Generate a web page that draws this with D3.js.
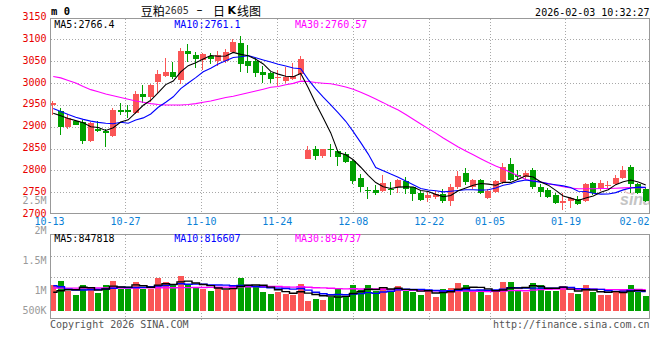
<!DOCTYPE html>
<html><head><meta charset="utf-8">
<script src="https://cdn.jsdelivr.net/npm/d3@7"></script>
<style>html,body{margin:0;padding:0;background:#fff;}svg{display:block;font-family:"DejaVu Sans Mono",monospace;}</style>
</head><body><svg id="c" width="660" height="360"></svg>
<script>
const dates = [
"10-13","10-14","10-15","10-16","10-17","10-20","10-21","10-22","10-23","10-24",
"10-27","10-28","10-29","10-30","10-31","11-03","11-04","11-05","11-06","11-07",
"11-10","11-11","11-12","11-13","11-14","11-17","11-18","11-19","11-20","11-21",
"11-24","11-25","11-26","11-27","11-28","12-01","12-02","12-03","12-04","12-05",
"12-08","12-09","12-10","12-11","12-12","12-15","12-16","12-17","12-18","12-19",
"12-22","12-23","12-24","12-25","12-26","12-29","12-30","12-31","01-05","01-06",
"01-07","01-08","01-09","01-12","01-13","01-14","01-15","01-16","01-19","01-20",
"01-21","01-22","01-23","01-26","01-27","01-28","01-29","01-30","02-02","02-03"];
const open = [
2950,2936,2900,2913,2911,2868,2896,2891,2878,2938,
2938,2932,2975,2968,3003,3016,3025,3006,3073,3065,
3052,3061,3050,3050,3071,3092,3050,3051,3025,3022,
3012,3005,3010,3020,2826,2848.5,2833,2850,2844,2837,
2821,2782,2756,2756,2753,2758,2763,2776,2763,2748,
2736,2740,2746,2729,2761,2793,2761,2778,2738,2751,
2774,2814,2789,2786,2801,2763,2755,2744,2726,2731,
2735,2729,2771,2757,2764,2768,2783,2807,2768,2757];
const high = [
2958,2943,2930,2915,2916,2910,2914,2895,2942,2955,
2949,2982,2995,2997,3029,3057,3049,3081,3090,3072,
3068,3070,3073,3077,3102,3109,3087,3058,3040,3025,
3031,3037,3045,3063,2855,2855,2850,2861,2846,2842,
2823.5,2792,2761,2767,2789,2773,2780,2784,2763,2753,
2750,2753,2757,2768,2799,2806,2780,2780,2757,2778,
2817,2829,2801,2798,2806,2770,2760,2748,2748,2740,
2742,2771,2774,2779,2775,2790,2811,2813,2772,2762];
const low = [
2926,2882,2894,2903,2860,2865,2887,2853,2876,2927,
2921,2930,2955,2957,2977,3014,3009,2999,3048,3034,
3030,3043,3040,3046,3068,3025,3023,3015,3000,3001,
2993,3000,3008,3008,2826,2823.5,2829,2831,2811,2816,
2769,2751.5,2734,2744,2751.5,2744,2748,2745.5,2730,2729,
2727,2735,2726,2719,2758,2767,2757,2746,2734,2748,
2770,2776,2779,2780,2757,2740,2738,2723.5,2710,2714,
2721,2727,2744,2752,2759,2766,2781,2748,2745,2728];
const close = [
2955,2900,2919,2905,2868,2908,2891,2885,2938,2933,
2933,2974,2968,2995,3021,3025,3014,3073,3067,3055,
3066,3055,3064,3071,3095,3044,3040,3022,3018,3010,
3013,3015,3017,3056,2846,2833,2848.5,2846,2831,2820,
2776.5,2763,2754,2748,2772,2757,2778,2757,2746,2733,
2744,2746,2729,2761,2788,2774,2778,2749,2754,2775,
2808,2777,2786,2793,2761,2751.5,2740,2726.5,2729,2736,
2724,2769,2749,2771,2766,2782,2802,2769,2749,2730];
const volume = [
1075000,1268000,849000,682000,1100000,962000,766000,1100000,1268000,933000,
933000,1226000,933000,933000,1381000,1226000,1088000,1464000,1088000,992000,
920000,849000,950000,879000,1088000,1381000,1088000,1017000,808000,711000,
808000,699000,682000,1130000,431000,502000,460000,598000,908000,598000,
1088000,879000,1088000,837000,992000,808000,1046000,849000,782000,669000,
879000,598000,908000,975000,1190000,1088000,808000,879000,669000,808000,
1230000,1230000,849000,808000,1184000,1088000,837000,849000,1046000,753000,
700000,1088000,799000,690000,650000,820000,920000,1088000,801000,610000];

const ma5Head = [2931,2925,2919,2914];
const ma10Head = [2942,2935,2928,2922,2917,2913,2910,2908,2907];
const ma30Head = [3015,3012,3006,3000,2992,2985,2980,2975,2971,2967,2963,2959,2956,2953,2951,2950,2950,2950,2951,2953,2956,2959,2963,2967,2970,2974,2978,2982,2986];
const volMa5Head = [782000,849000,891000,891000];
const volMa10Head = [1059000,1017000,908000,879000,879000,890000,900000,920000,950000];
const volMa30Head = [960000,960000,958000,958000,960000,960000,960000,962000,962000,963000,965000,965000,967000,968000,970000,972000,975000,978000,980000,983000,986000,990000,995000,1000000,1005000,1010000,1015000,1020000,1026000];

const priceTicks = [2700,2750,2800,2850,2900,2950,3000,3050,3100,3150];
const priceGrid = [2750,2800,2850,2900,2950,3000,3050,3100];
const volTicks = [2500000,2000000,1500000,1000000,500000];
const volTickLabels = ["2.5M","2M","1.5M","1M","500K"];
const dateTicks = ["10-13","10-27","11-10","11-24","12-08","12-22","01-05","01-19","02-02"];
const gridDates = ["10-27","11-10","11-24","12-08","12-22","01-05","01-19"];
const priceLegend = [{t:"MA5:2766.4",c:"#000000"},{t:"MA10:2761.1",c:"#0000ff"},{t:"MA30:2760.57",c:"#ff00ff"}];
const volLegend = [{t:"MA5:847818",c:"#000000"},{t:"MA10:816607",c:"#0000ff"},{t:"MA30:894737",c:"#ff00ff"}];

const RED = "#fa5656", GREEN = "#00a000", GRID = "#a8a8a8", BORDER = "#999999";
const svg = d3.select("#c");
const P = {l:50.5, r:649.5, t:18.5, b:213.5};
const V = {l:50.5, r:649.5, t:234.5, b:318.5};

const x = d3.scaleBand().domain(dates).range([49.5, 649.5]).paddingInner(0.2).paddingOuter(0.1);
const xg = d3.scalePoint().domain(dates).range([49.5, 649.5]);
const yP = d3.scaleLinear().domain([2700, 3150]).range([214.1, 17.6]);
const yV = d3.scaleLinear().domain([0, 3200000]).range([311, 311 - 3.2 * 23.9]);
const yVL = d3.scaleLinear().domain([1000000, 2500000]).range([290.7, 200.3]);

function ma(arr, n, head) {
  return arr.map((d, i) => i < n - 1 ? head[i] : d3.mean(arr.slice(i - n + 1, i + 1)));
}
const cx = d => x(d) + x.bandwidth() / 2;

const defs = svg.append("defs");
defs.append("clipPath").attr("id", "cp").append("rect").attr("x", 51).attr("y", 19).attr("width", 598).attr("height", 194);
defs.append("clipPath").attr("id", "cv").append("rect").attr("x", 51).attr("y", 235).attr("width", 598).attr("height", 83);

// gridlines
const g = svg.append("g").attr("shape-rendering", "crispEdges");
g.selectAll(".hg").data(priceGrid).join("line")
  .attr("x1", P.l).attr("x2", P.r)
  .attr("y1", d => Math.round(yP(d)) + 0.5).attr("y2", d => Math.round(yP(d)) + 0.5)
  .attr("stroke", GRID).attr("stroke-dasharray", "1,2");
g.selectAll(".vg").data(gridDates).join("line")
  .attr("x1", d => Math.floor(xg(d)) + 0.5).attr("x2", d => Math.floor(xg(d)) + 0.5)
  .attr("y1", P.t).attr("y2", P.b).attr("stroke", GRID).attr("stroke-dasharray", "1,2");
g.selectAll(".vgv").data(gridDates).join("line")
  .attr("x1", d => Math.floor(xg(d)) + 0.5).attr("x2", d => Math.floor(xg(d)) + 0.5)
  .attr("y1", V.t).attr("y2", V.b + 3).attr("stroke", GRID).attr("stroke-dasharray", "1,2");
g.selectAll(".hv").data([0.25, 0.5]).join("line")
  .attr("x1", V.l).attr("x2", V.r)
  .attr("y1", d => Math.round(V.t + (V.b - V.t) * d) + 0.5).attr("y2", d => Math.round(V.t + (V.b - V.t) * d) + 0.5)
  .attr("stroke", GRID).attr("stroke-dasharray", "1,2");

// watermark
const wm = svg.append("g").attr("clip-path", "url(#cp)");
wm.append("ellipse").attr("cx", 631).attr("cy", 190.5).attr("rx", 6).attr("ry", 3).attr("fill", "none").attr("stroke", "#f0c8c8").attr("stroke-width", 1.5);
wm.append("text").attr("x", 620).attr("y", 205).attr("font-family", "Liberation Sans, Arial, sans-serif")
  .attr("font-size", 16).attr("font-weight", "bold").attr("font-style", "italic").attr("fill", "#c4c4c4").text("sina");

// candles
const idx = d3.range(dates.length);
const cg = svg.append("g").attr("clip-path", "url(#cp)").attr("shape-rendering", "crispEdges");
const col = i => close[i] >= open[i] ? RED : GREEN;
cg.selectAll(".wick").data(idx).join("line")
  .attr("x1", i => Math.round(x(dates[i])) + 2.5).attr("x2", i => Math.round(x(dates[i])) + 2.5)
  .attr("y1", i => yP(high[i])).attr("y2", i => yP(low[i]))
  .attr("stroke", col);
cg.selectAll(".body").data(idx).join("rect")
  .attr("x", i => Math.round(x(dates[i]))).attr("width", Math.round(x.bandwidth()))
  .attr("y", i => yP(Math.max(open[i], close[i])))
  .attr("height", i => Math.max(1, Math.abs(yP(open[i]) - yP(close[i]))))
  .attr("fill", col);

// price MAs
const line = d3.line().x((d, i) => cx(dates[i])).y(d => yP(d));
const ml = svg.append("g").attr("clip-path", "url(#cp)").attr("fill", "none");
[[ma(close, 30, ma30Head), "#ff00ff"], [ma(close, 10, ma10Head), "#0000ff"], [ma(close, 5, ma5Head), "#000000"]]
  .forEach(([s, c]) => ml.append("path").attr("d", line(s)).attr("stroke", c).attr("stroke-width", 1.1));

// volume bars
const vg = svg.append("g").attr("clip-path", "url(#cv)").attr("shape-rendering", "crispEdges");
vg.selectAll("rect").data(idx).join("rect")
  .attr("x", i => Math.round(x(dates[i]))).attr("width", Math.round(x.bandwidth()))
  .attr("y", i => yV(volume[i])).attr("height", i => yV(0) - yV(volume[i]))
  .attr("fill", col);
const vline = d3.line().x((d, i) => cx(dates[i])).y(d => yV(d)).curve(d3.curveStep);
const vml = svg.append("g").attr("clip-path", "url(#cv)").attr("fill", "none");
[[ma(volume, 30, volMa30Head), "#ff00ff"], [ma(volume, 10, volMa10Head), "#0000ff"], [ma(volume, 5, volMa5Head), "#000000"]]
  .forEach(([s, c]) => vml.append("path").attr("d", vline(s)).attr("stroke", c).attr("stroke-width", 1.4));

// borders
const b = svg.append("g").attr("fill", "none").attr("stroke", BORDER).attr("shape-rendering", "crispEdges");
b.append("rect").attr("x", P.l).attr("y", P.t).attr("width", P.r - P.l).attr("height", P.b - P.t);
b.append("rect").attr("x", V.l).attr("y", V.t).attr("width", V.r - V.l).attr("height", V.b - V.t);

// axis labels
const T = svg.append("g").attr("font-size", 10).attr("dominant-baseline", "central");
T.selectAll(".pt").data(priceTicks).join("text")
  .attr("x", 46.5).attr("y", d => yP(d) - 1).attr("text-anchor", "end").attr("fill", "#e80000").text(d => d);
T.selectAll(".vt").data(volTicks).join("text")
  .attr("x", 46.5).attr("y", d => Math.min(yVL(d), 310)).attr("text-anchor", "end").attr("fill", "#9a9a9a")
  .text((d, i) => volTickLabels[i]);
T.selectAll(".dt").data(dateTicks).join("text")
  .attr("x", d => Math.min(xg(d), 650 - 15.5)).attr("y", 221.7).attr("text-anchor", "middle")
  .attr("fill", "#0a7fd6").text(d => d);

// legends
T.selectAll(".pl").data(priceLegend).join("text")
  .attr("x", (d, i) => [54.3, 174.3, 295][i]).attr("y", 24).attr("fill", d => d.c).text(d => d.t);
T.selectAll(".vl").data(volLegend).join("text")
  .attr("x", (d, i) => [54.3, 174.3, 295][i]).attr("y", 238.5).attr("fill", d => d.c).text(d => d.t);

// header
T.append("text").attr("x", 51).attr("y", 11.2).attr("font-size", 10.5).attr("font-weight", "bold").attr("fill", "#000").text("m 0");
const title = svg.append("text").attr("y", 10).attr("dominant-baseline", "central").attr("fill", "#000");
title.append("tspan").attr("x", 140.7).attr("font-family", "Noto Sans CJK SC").attr("font-size", 12).text("豆粕");
title.append("tspan").attr("x", 164.7).attr("font-family", "DejaVu Sans Mono").attr("font-size", 10).attr("fill", "#333").text("2605");
title.append("tspan").attr("x", 196.5).attr("font-family", "DejaVu Sans").attr("font-size", 12).text("–");
title.append("tspan").attr("x", 213).attr("font-family", "Noto Sans CJK SC").attr("font-size", 12).text("日");
title.append("tspan").attr("x", 227.5).attr("font-family", "DejaVu Sans").attr("font-weight", "bold").attr("font-size", 11).text("K");
title.append("tspan").attr("x", 237).attr("font-family", "Noto Sans CJK SC").attr("font-size", 12).text("线图");
T.append("text").attr("x", 649.5).attr("y", 12.3).attr("text-anchor", "end").attr("fill", "#000").text("2026-02-03 10:32:27");

// footer
T.append("text").attr("x", 50).attr("y", 324).attr("fill", "#555").text("Copyright 2026 SINA.COM");
T.append("text").attr("x", 649.5).attr("y", 324).attr("text-anchor", "end").attr("fill", "#555").text("http://finance.sina.com.cn");
</script></body></html>
